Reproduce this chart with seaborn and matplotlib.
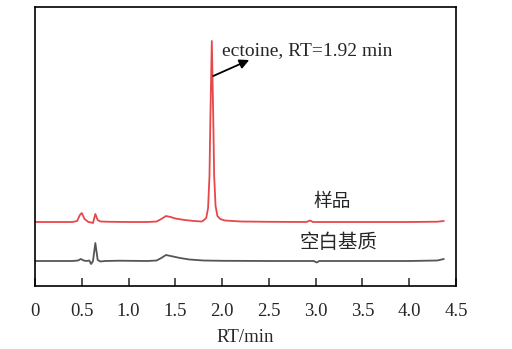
import matplotlib
matplotlib.use("Agg")
import matplotlib.pyplot as plt
import seaborn as sns
import pandas as pd

# Sample trace (样品) (display units, offset baseline)
sample_rt = [0.00, 0.40, 0.45, 0.48, 0.50, 0.53, 0.57, 0.60, 0.62, 0.645, 0.67, 0.70, 0.80,
             1.00, 1.20, 1.30, 1.35, 1.40, 1.45, 1.50, 1.60, 1.70, 1.78, 1.80, 1.83, 1.85,
             1.865, 1.875, 1.89, 1.905, 1.915, 1.93, 1.95, 1.98, 2.03, 2.20, 2.50, 2.90,
             2.94, 2.97, 3.00, 3.50, 4.00, 4.30, 4.37]
sample_sig = [64, 64, 65, 71, 73, 67, 64, 63.5, 63, 72, 66, 64.5, 64.2,
              64, 64, 64.5, 67, 70, 69, 67.5, 66, 65, 64.5, 65.5, 68, 78,
              110, 170, 245, 170, 110, 80, 70, 67, 65.5, 64.5, 64.2, 64,
              65.5, 64, 64, 64, 64, 64.3, 65]

# Blank matrix trace (空白基质)
blank_rt = [0.00, 0.40, 0.46, 0.49, 0.52, 0.55, 0.58, 0.60, 0.62, 0.645, 0.67, 0.70, 0.75,
            0.90, 1.20, 1.30, 1.35, 1.40, 1.45, 1.55, 1.65, 1.80, 2.00, 2.50, 2.98, 3.01,
            3.04, 3.50, 4.00, 4.30, 4.37]
blank_sig = [25, 25, 25.5, 27, 25.5, 25, 25.5, 22, 25, 43, 26, 24.5, 25,
             25.3, 25, 25.5, 28, 31, 30, 28, 26.5, 25.5, 25.2, 25, 25, 23.5,
             25, 25, 25, 25.5, 27]

x_ticks = [0, 0.5, 1.0, 1.5, 2.0, 2.5, 3.0, 3.5, 4.0, 4.5]
x_tick_labels = ["0", "0.5", "1.0", "1.5", "2.0", "2.5", "3.0", "3.5", "4.0", "4.5"]

sns.set_style("white")
plt.rcParams["font.family"] = ["Liberation Serif", "Noto Sans CJK SC"]

fig = plt.figure(figsize=(5.12, 3.49), dpi=100)
ax = fig.add_axes([35/512, 63/349, 421/512, 279/349])

df_s = pd.DataFrame({"rt": sample_rt, "sig": sample_sig})
df_b = pd.DataFrame({"rt": blank_rt, "sig": blank_sig})
sns.lineplot(data=df_s, x="rt", y="sig", ax=ax, color="#E8474A", lw=1.3,
             sort=False, estimator=None)
sns.lineplot(data=df_b, x="rt", y="sig", ax=ax, color="#555555", lw=1.3,
             sort=False, estimator=None)

ax.set_xlim(0, 4.5)
ax.set_ylim(0, 279)
ax.set_xticks(x_ticks)
ax.set_xticklabels(x_tick_labels, fontsize=13.5)
ax.set_yticks([])
ax.set_ylabel("")
ax.set_xlabel("RT/min", fontsize=13.5, labelpad=7)
ax.tick_params(axis="x", direction="in", length=6, width=1.1, pad=12, bottom=True)
for s in ax.spines.values():
    s.set_visible(True)
    s.set_color("black")
    s.set_linewidth(1.2)

ax.text(3.18, 84, "样品", fontsize=13.5, ha="center", va="center",
        family=["Noto Sans CJK SC"])
ax.text(3.24, 43, "空白基质", fontsize=14, ha="center", va="center",
        family=["Noto Sans CJK SC"])

ax.annotate("", xy=(2.29, 226), xytext=(1.905, 210),
            arrowprops=dict(arrowstyle="-|>", color="black", lw=1.3,
                            mutation_scale=14, shrinkA=0, shrinkB=0))
ax.text(2.0, 231, "ectoine, RT=1.92 min", fontsize=14, ha="left", va="baseline")

fig.savefig("out.png", dpi=100)
